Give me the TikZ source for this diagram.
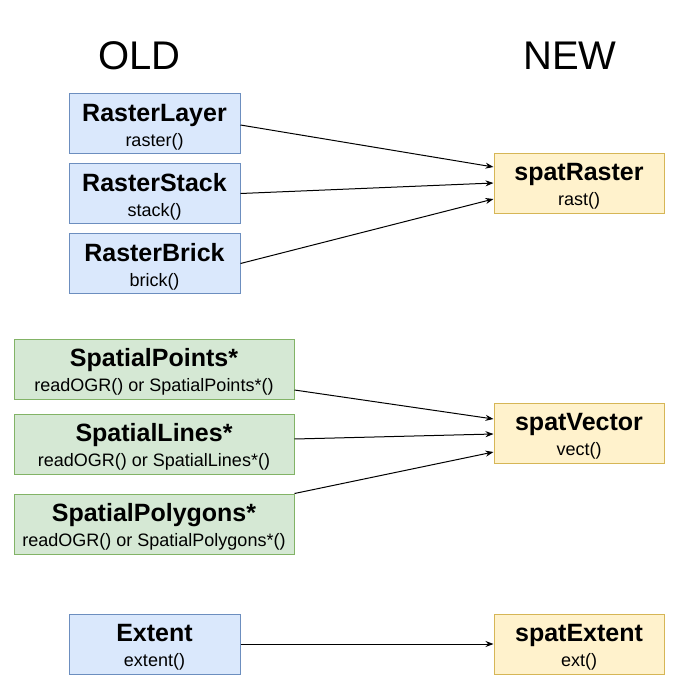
\documentclass[tikz,border=0pt]{standalone}
\usepackage{fontspec}
\setmainfont{Liberation Sans}
\usetikzlibrary{arrows.meta}
\definecolor{bfill}{HTML}{DAE8FC}\definecolor{bdraw}{HTML}{6C8EBF}
\definecolor{gfill}{HTML}{D5E8D4}\definecolor{gdraw}{HTML}{82B366}
\definecolor{yfill}{HTML}{FFF2CC}\definecolor{ydraw}{HTML}{D6B656}
\begin{document}
\begin{tikzpicture}[x=1pt,y=-1pt,
 box/.style={draw,line width=1pt,minimum height=60pt,inner sep=0pt},
 oldb/.style={box,fill=bfill,draw=bdraw,minimum width=171pt},
 spb/.style={box,fill=gfill,draw=gdraw,minimum width=280pt},
 newb/.style={box,fill=yfill,draw=ydraw,minimum width=170pt},
 ttl/.style={anchor=base,font=\fontsize{25}{29}\selectfont\bfseries,inner sep=0pt},
 sub/.style={anchor=base,font=\fontsize{18}{21}\selectfont,inner sep=0pt},
 head/.style={anchor=base,font=\fontsize{40}{46}\selectfont,inner sep=0pt},
 conn/.style={line width=1pt,-{Stealth[length=8pt,width=6pt]}}]
\useasboundingbox (0,0) rectangle (690,696);
% headings
\node[head] (old) at (139.5,69) {OLD};
\node[head] (new) at (570,69) {NEW};
% old raster boxes
\node[oldb] (rl) at (154.5,123.5) {};
\node[ttl] (rlT) at ([yshift=2.5pt]rl.center) {RasterLayer};
\node[sub] (rlS) at ([yshift=-22.5pt]rl.center) {raster()};
\node[oldb] (rs) at (154.5,193.5) {};
\node[ttl] (rsT) at ([yshift=2.5pt]rs.center) {RasterStack};
\node[sub] (rsS) at ([yshift=-22.5pt]rs.center) {stack()};
\node[oldb] (rb) at (154.5,263.5) {};
\node[ttl] (rbT) at ([yshift=2.5pt]rb.center) {RasterBrick};
\node[sub] (rbS) at ([yshift=-22.5pt]rb.center) {brick()};
% spatial boxes
\node[spb] (sp) at (154,369) {};
\node[ttl] (spT) at ([yshift=2.5pt]sp.center) {SpatialPoints*};
\node[sub] (spS) at ([yshift=-22.5pt]sp.center) {readOGR() or SpatialPoints*()};
\node[spb] (sl) at (154,444) {};
\node[ttl] (slT) at ([yshift=2.5pt]sl.center) {SpatialLines*};
\node[sub] (slS) at ([yshift=-22.5pt]sl.center) {readOGR() or SpatialLines*()};
\node[spb] (sg) at (154,524) {};
\node[ttl] (sgT) at ([yshift=2.5pt]sg.center) {SpatialPolygons*};
\node[sub] (sgS) at ([yshift=-22.5pt]sg.center) {readOGR() or SpatialPolygons*()};
% extent
\node[oldb] (ex) at (154.5,644) {};
\node[ttl] (exT) at ([yshift=2.5pt]ex.center) {Extent};
\node[sub] (exS) at ([yshift=-22.5pt]ex.center) {extent()};
% new boxes
\node[newb] (sr) at (579,183) {};
\node[ttl] (srT) at ([yshift=2.5pt]sr.center) {spatRaster};
\node[sub] (srS) at ([yshift=-22.5pt]sr.center) {rast()};
\node[newb] (sv) at (579,433) {};
\node[ttl] (svT) at ([yshift=2.5pt]sv.center) {spatVector};
\node[sub] (svS) at ([yshift=-22.5pt]sv.center) {vect()};
\node[newb] (se) at (579,644) {};
\node[ttl] (seT) at ([yshift=2.5pt]se.center) {spatExtent};
\node[sub] (seS) at ([yshift=-22.5pt]se.center) {ext()};
% connectors
\draw[conn] ([yshift=-1.5pt]rl.east) -- ([yshift=16pt]sr.west);
\draw[conn] (rs.east) -- (sr.west);
\draw[conn] (rb.east) -- ([yshift=-16pt]sr.west);
\draw[conn] ([yshift=-21pt]sp.east) -- ([yshift=14pt]sv.west);
\draw[conn] ([yshift=5pt]sl.east) -- ([yshift=-1pt]sv.west);
\draw[conn] (sg.north east) -- ([yshift=-19pt]sv.west);
\draw[conn] (ex.east) -- (se.west);
\end{tikzpicture}
\end{document}
